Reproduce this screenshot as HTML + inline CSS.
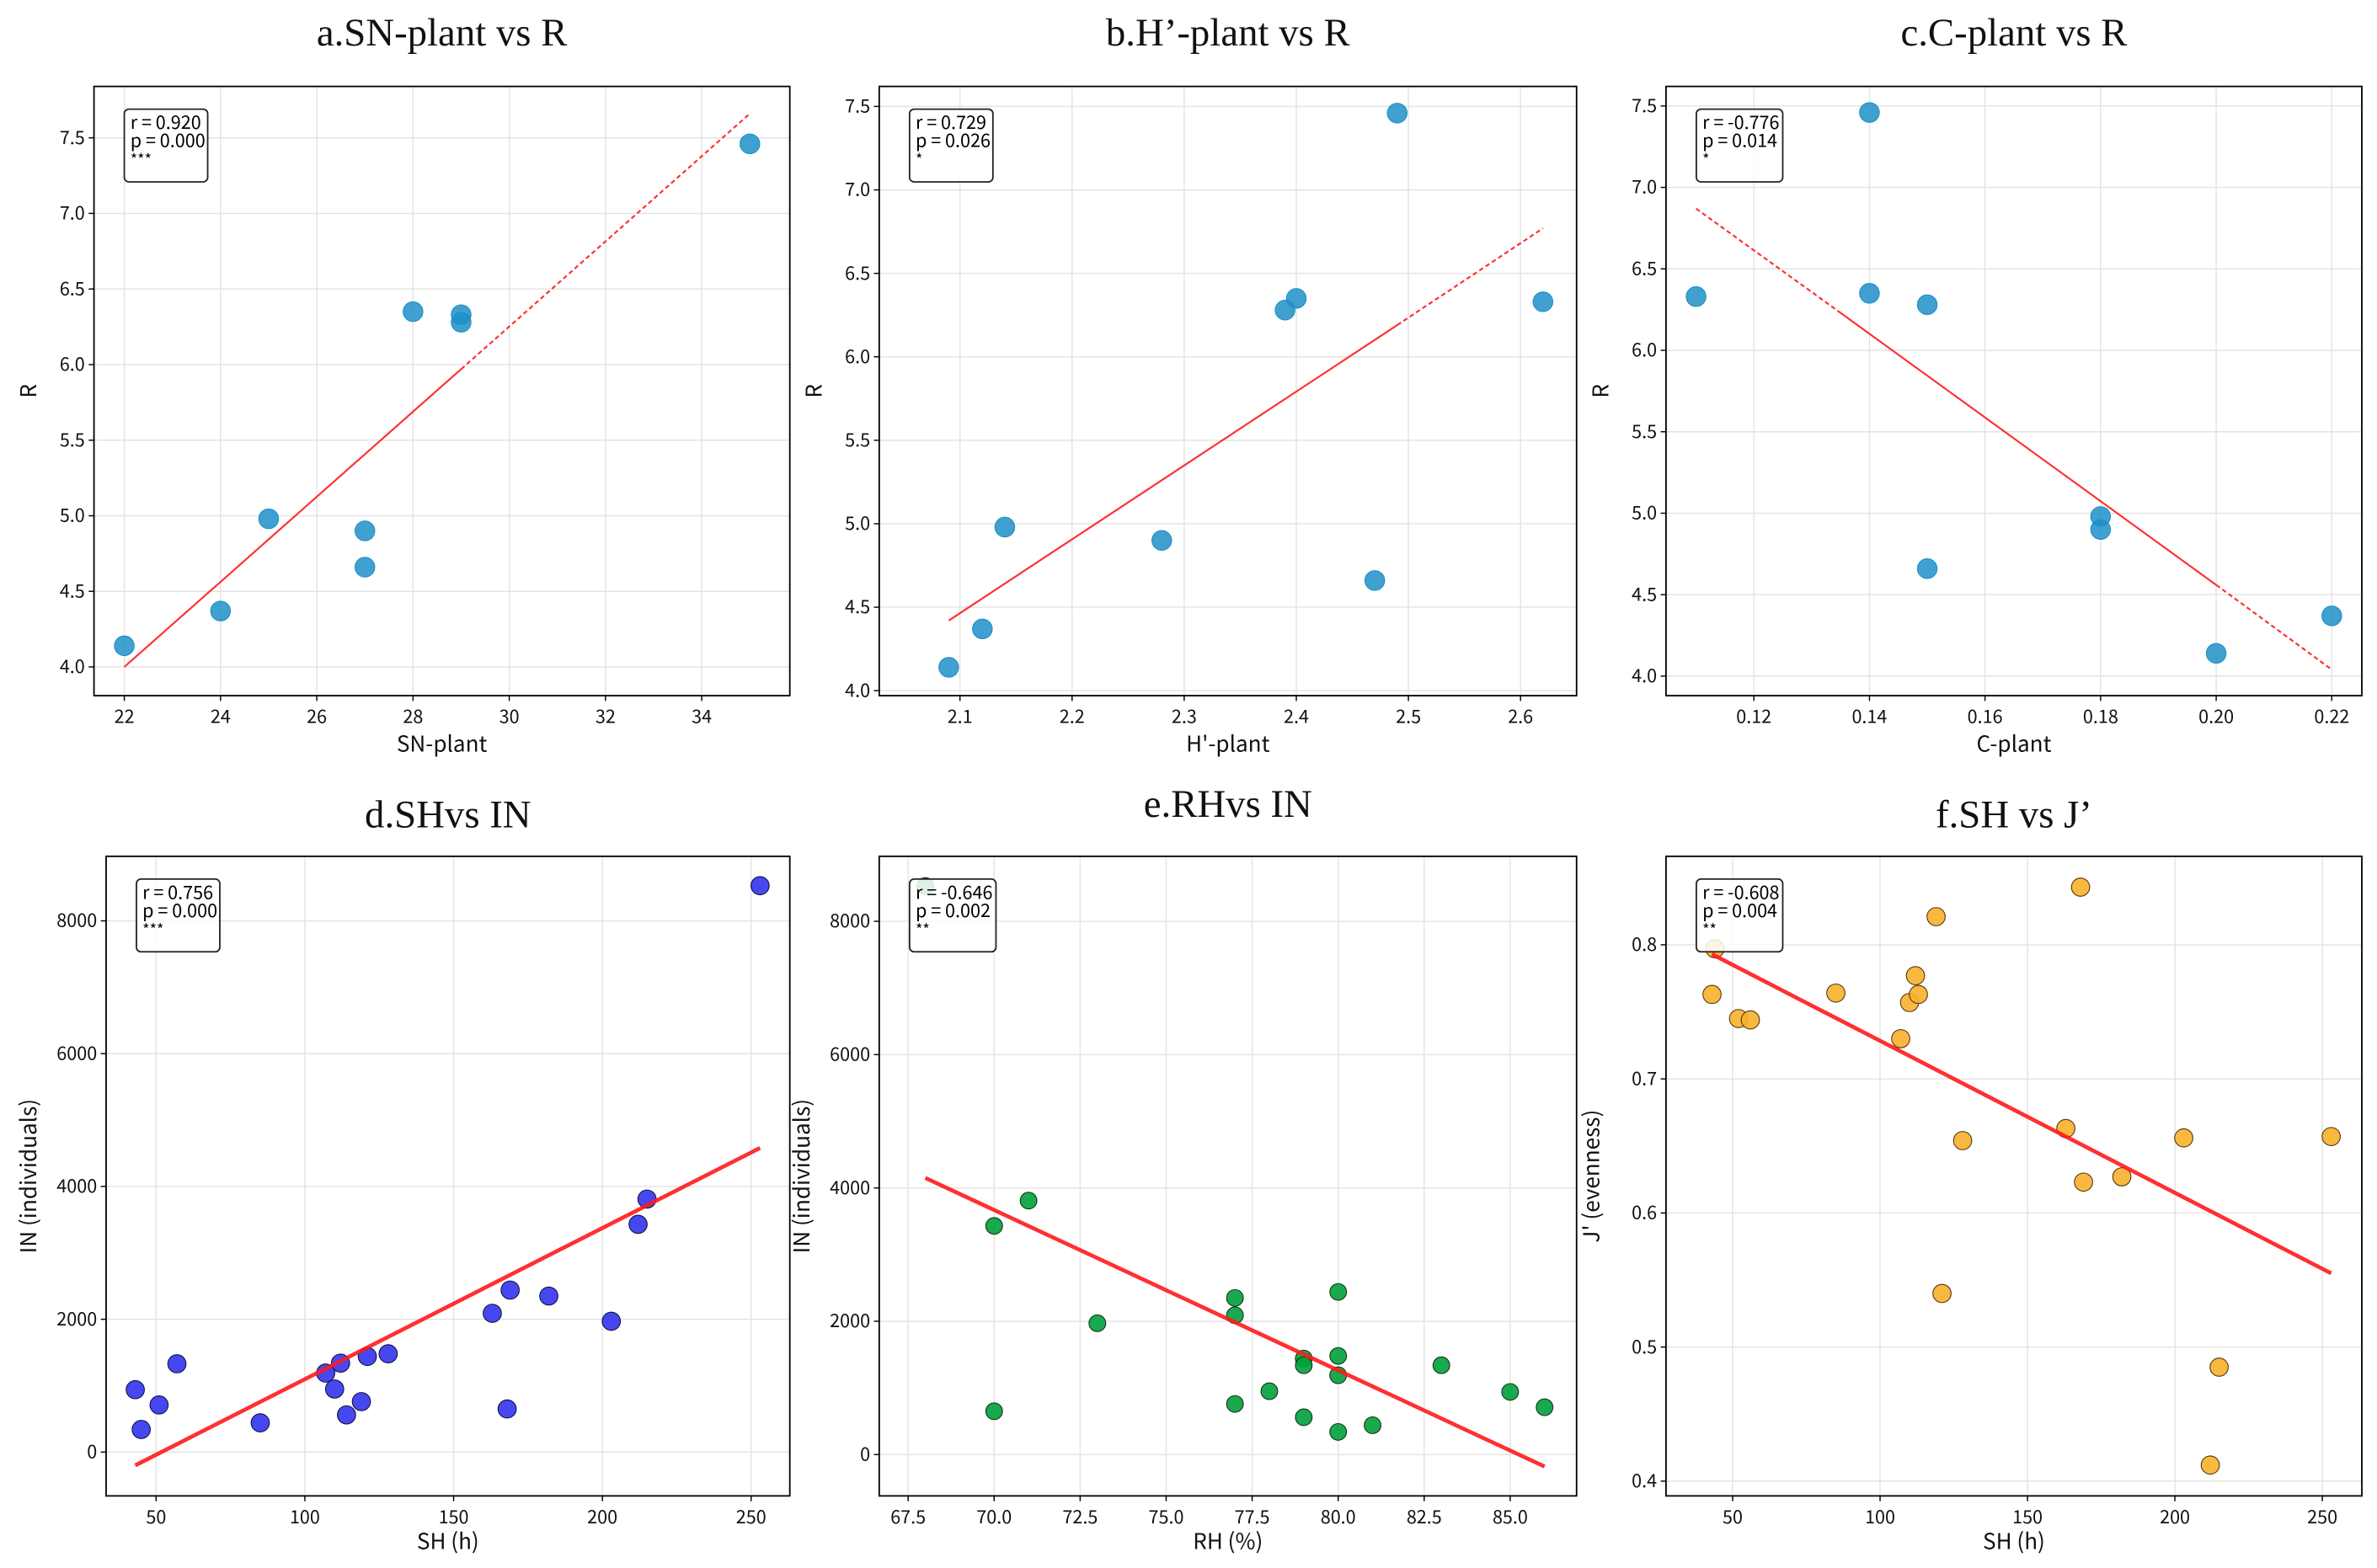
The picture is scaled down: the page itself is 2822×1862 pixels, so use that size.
<!DOCTYPE html>
<html><head><meta charset="utf-8"><style>
html,body{margin:0;padding:0;background:#fff;}
svg{display:block;}
</style></head><body>
<svg id="fig" width="2822" height="1862" viewBox="0 0 1568 1034.56" xmlns="http://www.w3.org/2000/svg"></svg>
<script>
// ---- Panel a data ----
const aX=[22,24,25,27,27,28,29,29,35];
const aY=[4.14,4.37,4.98,4.90,4.66,6.35,6.33,6.28,7.46];
const aFitX=[22,29,35]; const aFitY=[4.0,5.97,7.66];
const aXTicks=[22,24,26,28,30,32,34]; const aYTicks=[4.0,4.5,5.0,5.5,6.0,6.5,7.0,7.5];
// ---- Panel b data ----
const bX=[2.09,2.12,2.14,2.28,2.39,2.40,2.47,2.49,2.62];
const bY=[4.14,4.37,4.98,4.90,6.28,6.35,4.66,7.46,6.33];
const bFitX=[2.09,2.49,2.62]; const bFitY=[4.42,6.19,6.77];
const bXTicks=[2.1,2.2,2.3,2.4,2.5,2.6]; const bYTicks=[4.0,4.5,5.0,5.5,6.0,6.5,7.0,7.5];
// ---- Panel c data ----
const cX=[0.11,0.14,0.14,0.15,0.15,0.18,0.18,0.20,0.22];
const cY=[6.33,7.46,6.35,6.28,4.66,4.98,4.90,4.14,4.37];
const cFitX=[0.11,0.135,0.20,0.22]; const cFitY=[6.87,6.23,4.56,4.04];
const cXTicks=[0.12,0.14,0.16,0.18,0.20,0.22]; const cYTicks=[4.0,4.5,5.0,5.5,6.0,6.5,7.0,7.5];
// ---- Panel d data ----
const dX=[43,45,51,57,85,107,110,112,114,119,121,128,163,168,169,182,203,212,215,253];
const dY=[940,340,710,1330,440,1190,950,1340,560,760,1440,1480,2090,650,2440,2350,1970,3430,3810,8530];
const dFitX=[43,253]; const dFitY=[-200,4580];
const dXTicks=[50,100,150,200,250]; const dYTicks=[0,2000,4000,6000,8000];
// ---- Panel e data ----
const eX=[68,70,70,71,73,77,77,77,78,79,79,79,80,80,80,80,81,83,85,86];
const eY=[8530,3430,650,3810,1970,2350,2090,760,950,1440,1340,560,2440,1480,1190,340,440,1340,940,710];
const eFitX=[68,86]; const eFitY=[4150,-180];
const eXTicks=[67.5,70.0,72.5,75.0,77.5,80.0,82.5,85.0]; const eYTicks=[0,2000,4000,6000,8000];
// ---- Panel f data ----
const fX=[43,44,52,56,85,107,110,112,113,119,121,128,163,168,169,182,203,212,215,253];
const fY=[0.763,0.797,0.745,0.744,0.764,0.730,0.757,0.777,0.763,0.821,0.540,0.654,0.663,0.843,0.623,0.627,0.656,0.412,0.485,0.657];
const fFitX=[43,253]; const fFitY=[0.793,0.555];
const fXTicks=[50,100,150,200,250]; const fYTicks=[0.4,0.5,0.6,0.7,0.8];

const NS="http://www.w3.org/2000/svg";
const svg=document.getElementById('fig');
function mk(tag,attrs,parent){const e=document.createElementNS(NS,tag);for(const k in attrs)e.setAttribute(k,attrs[k]);(parent||svg).appendChild(e);return e;}

const panels=[
 {id:'a',title:'a.SN-plant vs R',xl:'SN-plant',yl:'R',X:aX,Y:aY,fx:aFitX,fy:aFitY,dash:[false,true],xt:aXTicks,yt:aYTicks,xd:[21.37,35.83],yd:[3.81,7.84],box:[62,57,521,459],fill:'#1f8fc8',edge:'#1f8fc8',op:0.85,r:6.5,lw:1.2,fmtx:v=>v,fmty:v=>v.toFixed(1),ty:20,stats:['r = 0.920','p = 0.000','***']},
 {id:'b',title:'b.H’-plant vs R',xl:"H'-plant",yl:'R',X:bX,Y:bY,fx:bFitX,fy:bFitY,dash:[false,true],xt:bXTicks,yt:bYTicks,xd:[2.028,2.65],yd:[3.97,7.62],box:[580,57,1040,459],fill:'#1f8fc8',edge:'#1f8fc8',op:0.85,r:6.5,lw:1.2,fmtx:v=>v.toFixed(1),fmty:v=>v.toFixed(1),ty:20,stats:['r = 0.729','p = 0.026','*']},
 {id:'c',title:'c.C-plant vs R',xl:'C-plant',yl:'R',X:cX,Y:cY,fx:cFitX,fy:cFitY,dash:[true,false,true],xt:cXTicks,yt:cYTicks,xd:[0.1048,0.2252],yd:[3.88,7.62],box:[1099,57,1558,459],fill:'#1f8fc8',edge:'#1f8fc8',op:0.85,r:6.5,lw:1.2,fmtx:v=>v.toFixed(2),fmty:v=>v.toFixed(1),ty:20,stats:['r = -0.776','p = 0.014','*']},
 {id:'d',title:'d.SHvs IN',xl:'SH (h)',yl:'IN (individuals)',X:dX,Y:dY,fx:dFitX,fy:dFitY,dash:[false],xt:dXTicks,yt:dYTicks,xd:[33.2,263.0],yd:[-660,8972],box:[70,565,521,987],fill:'#3333ee',edge:'#111144',op:0.9,r:6,lw:2.6,fmtx:v=>v,fmty:v=>v,ty:536,stats:['r = 0.756','p = 0.000','***']},
 {id:'e',title:'e.RHvs IN',xl:'RH (%)',yl:'IN (individuals)',X:eX,Y:eY,fx:eFitX,fy:eFitY,dash:[false],xt:eXTicks,yt:eYTicks,xd:[66.66,86.93],yd:[-620,8975],box:[580,565,1040,987],fill:'#00a03c',edge:'#113311',op:0.9,r:5.5,lw:2.6,fmtx:v=>v.toFixed(1),fmty:v=>v,ty:529,stats:['r = -0.646','p = 0.002','**']},
 {id:'f',title:'f.SH vs J’',xl:'SH (h)',yl:"J' (evenness)",X:fX,Y:fY,fx:fFitX,fy:fFitY,dash:[false],xt:fXTicks,yt:fYTicks,xd:[27.4,263.4],yd:[0.389,0.866],box:[1099,565,1558,987],fill:'#f8b02a',edge:'#553311',op:0.9,r:6,lw:2.6,fmtx:v=>v,fmty:v=>v.toFixed(1),ty:536,stats:['r = -0.608','p = 0.004','**']}
];

const SANS='"Noto Sans CJK SC","DejaVu Sans",sans-serif';
panels.forEach(p=>{
  const [L,T,R,B]=p.box;
  const sx=v=>L+(v-p.xd[0])/(p.xd[1]-p.xd[0])*(R-L);
  const sy=v=>B-(v-p.yd[0])/(p.yd[1]-p.yd[0])*(B-T);
  const g=mk('g',{});
  
  
  const t=mk('text',{x:(L+R)/2,y:p.ty+10,'text-anchor':'middle','font-family':'"Liberation Serif",serif','font-size':26,fill:'#111'},g);
  t.textContent=p.title;
  
  
  p.xt.forEach(v=>{const x=sx(v);
    const gl=mk('line',{x1:x,x2:x,y1:T,y2:B,stroke:'#e3e3e3','stroke-width':0.8},g);
    
    
    mk('line',{x1:x,x2:x,y1:B,y2:B+3.5,stroke:'#000','stroke-width':0.8},g);
    const tl=mk('text',{x:x,y:B+18,'text-anchor':'middle','font-family':SANS,'font-size':12,fill:'#111'},g);
    tl.textContent=p.fmtx(v);
    
    
  });
  p.yt.forEach(v=>{const y=sy(v);
    const gl=mk('line',{x1:L,x2:R,y1:y,y2:y,stroke:'#e3e3e3','stroke-width':0.8},g);
    
    
    mk('line',{x1:L-3.5,x2:L,y1:y,y2:y,stroke:'#000','stroke-width':0.8},g);
    const tl=mk('text',{x:L-6,y:y+4,'text-anchor':'end','font-family':SANS,'font-size':12,fill:'#111'},g);
    tl.textContent=p.fmty(v);
    
    
  });
  p.X.forEach((xv,i)=>{
    const c=mk('circle',{cx:sx(xv),cy:sy(p.Y[i]),r:p.r,fill:p.fill,'fill-opacity':p.op,stroke:p.edge,'stroke-width':0.6},g);
    
    
  });
  for(let i=0;i<p.fx.length-1;i++){
    const a={x1:sx(p.fx[i]),y1:sy(p.fy[i]),x2:sx(p.fx[i+1]),y2:sy(p.fy[i+1]),stroke:'#ff1a1a','stroke-width':p.lw,'stroke-opacity':0.9};
    if(p.dash[i]) a['stroke-dasharray']='3,2';
    const ln=mk('line',a,g);
    
    
  }
  const fr=mk('rect',{x:L,y:T,width:R-L,height:B-T,fill:'none',stroke:'#000','stroke-width':1},g);
  
  
  const bx=L+20, by=T+15;
  const bw=p.stats[0].length>9?57:55;
  const sb=mk('rect',{x:bx,y:by,width:bw,height:48,rx:3,fill:'#fff','fill-opacity':0.85,stroke:'#222','stroke-width':1},g);
  
  
  p.stats.forEach((s,k)=>{
    const st=mk('text',{x:bx+4,y:by+13+k*12,'font-family':SANS,'font-size':k==2?10:12,fill:'#000'},g);
    st.textContent=s;
    
    
  });
  const xlb=mk('text',{x:(L+R)/2,y:B+(T<100?37:35),'text-anchor':'middle','font-family':SANS,'font-size':14.5,fill:'#111'},g);
  xlb.textContent=p.xl;
  
  
  const yx=L-(p.id==='d'||p.id==='e'?46:(p.id==='f'?44:38));
  const ylb=mk('text',{x:yx,y:(T+B)/2,'text-anchor':'middle','font-family':SANS,'font-size':14.5,fill:'#111',transform:`rotate(-90 ${yx} ${(T+B)/2})`},g);
  ylb.textContent=p.yl;
  
  
});
</script>
</body></html>
